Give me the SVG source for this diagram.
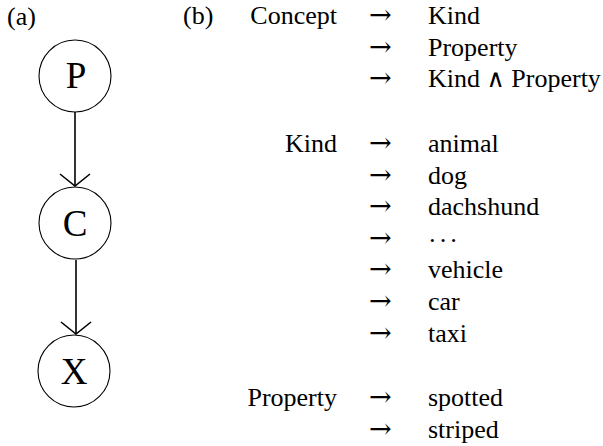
<svg xmlns="http://www.w3.org/2000/svg" width="603" height="446" viewBox="0 0 603 446">
<style>
text{font-family:"Liberation Serif","Times New Roman",serif;fill:#000}
.t{font-size:26px;font-family:"Liberation Serif",serif}
.r{text-anchor:end}
.n{font-size:37px;text-anchor:middle}
.a{font-family:"DejaVu Serif",serif;font-size:27px}
.w{font-family:"DejaVu Serif",serif;font-size:25px}
circle{fill:#fff;stroke:#000;stroke-width:1.1}
.e{stroke:#000;stroke-width:1.6;fill:none}
</style>
<rect width="603" height="446" fill="#fff"/>
<text class="t" x="7" y="25">(a)</text>
<g id="connectors">
<path class="e" d="M75,112 V186"/>
<path d="M60,174 L75,186 L90,174" class="e"/>
<path class="e" d="M76,260 V334"/>
<path d="M61,322 L76,334 L91,322" class="e"/>
</g>
<g id="nodeP"><circle cx="75" cy="76" r="36"/><text class="n" x="76" y="88">P</text></g>
<g id="nodeC"><circle cx="75" cy="223" r="36"/><text class="n" x="75" y="236">C</text></g>
<g id="nodeX"><circle cx="74" cy="371" r="36"/><text class="n" x="74" y="384">X</text></g>
<g id="grammar" font-family="Liberation Serif" font-size="26">
<text class="t" x="183" y="24">(b)</text>
<text class="t r" x="337" y="24">Concept</text>
<text class="a" x="369" y="24">→</text><text class="t" x="428" y="24">Kind</text>
<text class="a" x="369" y="55.6">→</text><text class="t" x="428" y="55.6">Property</text>
<text class="a" x="369" y="87.2">→</text><text class="t" x="428" y="87.2">Kind <tspan class="w">∧</tspan> Property</text>
<text class="t r" x="337" y="152">Kind</text>
<text class="a" x="369" y="152">→</text><text class="t" x="428" y="152">animal</text>
<text class="a" x="369" y="183.6">→</text><text class="t" x="428" y="183.6">dog</text>
<text class="a" x="369" y="215.2">→</text><text class="t" x="428" y="215.2">dachshund</text>
<text class="a" x="369" y="246.8">→</text><text class="t" x="428" y="249" letter-spacing="2">···</text>
<text class="a" x="369" y="278.4">→</text><text class="t" x="428" y="278.4">vehicle</text>
<text class="a" x="369" y="310">→</text><text class="t" x="428" y="310">car</text>
<text class="a" x="369" y="341.6">→</text><text class="t" x="428" y="341.6">taxi</text>
<text class="t r" x="337" y="406">Property</text>
<text class="a" x="369" y="406">→</text><text class="t" x="428" y="406">spotted</text>
<text class="a" x="369" y="437.5">→</text><text class="t" x="428" y="437.5">striped</text>
</g>
</svg>
